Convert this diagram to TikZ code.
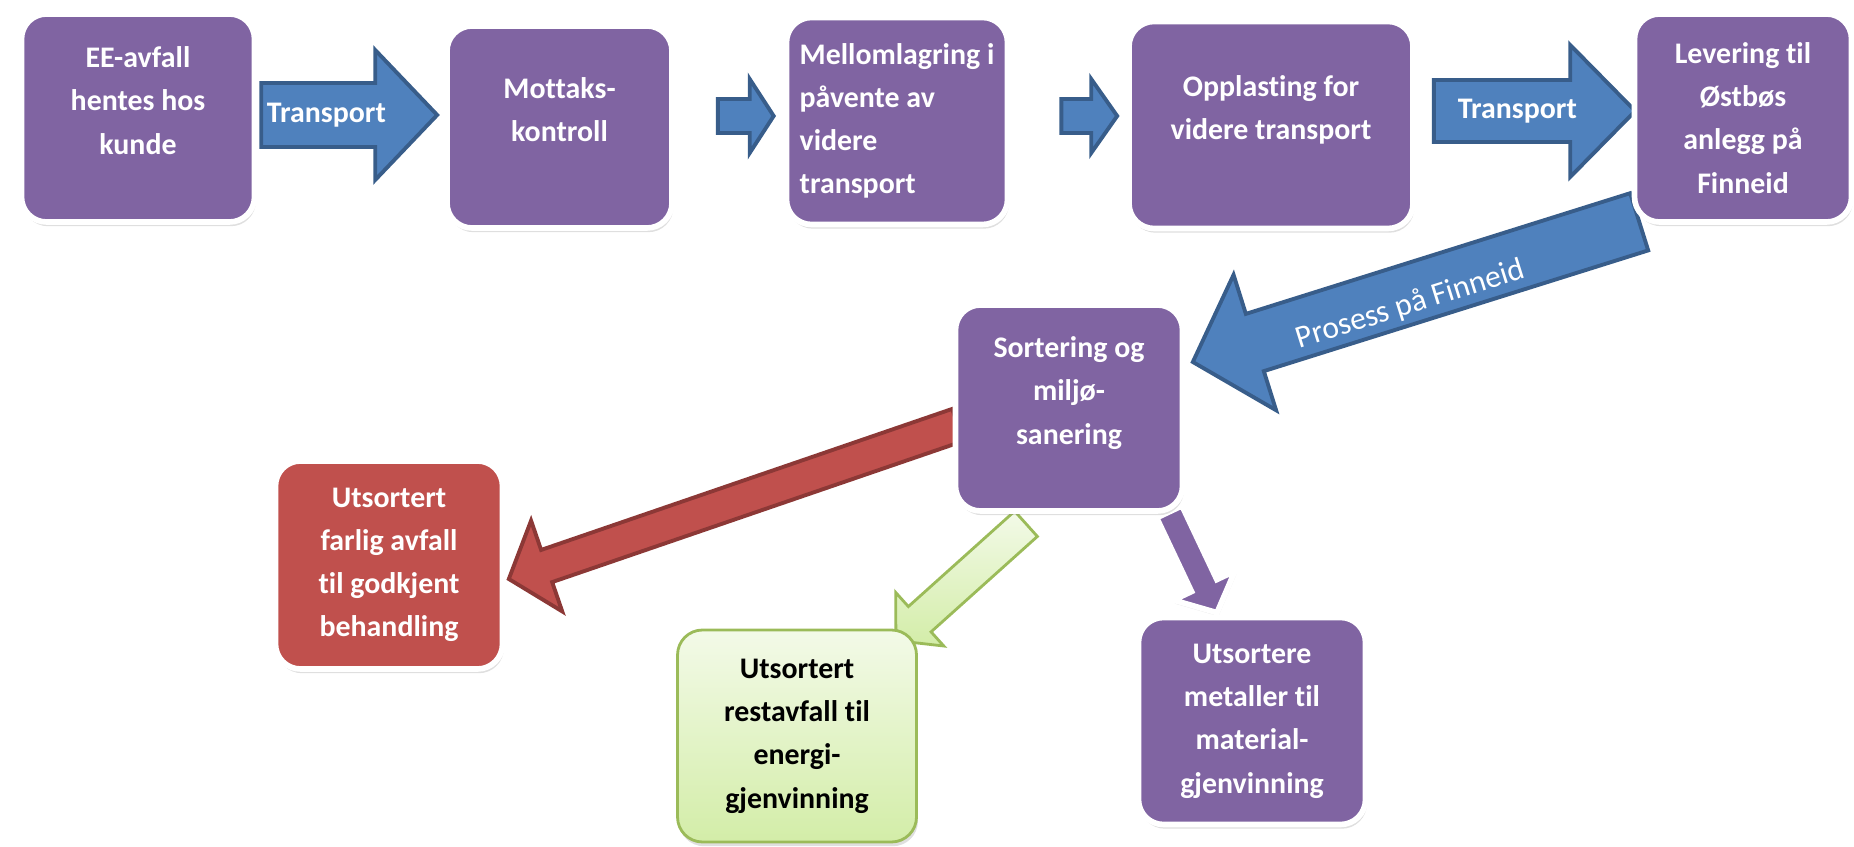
\documentclass[tikz,border=0pt]{standalone}
\usepackage{fontspec}
\setmainfont{Carlito}[Ligatures=NoCommon]
\usepackage{xcolor}
\usetikzlibrary{calc, shadows, backgrounds}

\definecolor{boxpurple}{HTML}{8064A2}
\definecolor{arrowblue}{HTML}{4F81BD}
\definecolor{arrowedge}{HTML}{385D8A}
\definecolor{boxred}{HTML}{C0504D}
\definecolor{rededge}{HTML}{8C3836}
\definecolor{greentop}{HTML}{F3FAE8}
\definecolor{greenbottom}{HTML}{D3EDA8}
\definecolor{greenedge}{HTML}{9BBB59}

% block arrow: [style]{tail}{tip}{shaft half width}{head half width}{head length}
\newcommand{\blockarrow}[6][]{%
  \coordinate (ba-base) at ($(#3)!#6!(#2)$);
  \draw[#1] ($(#2)!#4!90:(#3)$) -- ($(ba-base)!#4!-90:(#2)$) -- ($(ba-base)!#5!-90:(#2)$)
    -- (#3) -- ($(ba-base)!#5!90:(#2)$) -- ($(ba-base)!#4!90:(#2)$) -- ($(#2)!#4!-90:(#3)$) -- cycle;
}

\begin{document}
\begin{tikzpicture}[
    font=\fontsize{8.5}{12.3}\selectfont\bfseries,
    stepnode/.style={draw=white, line width=1.6pt, rounded corners=0.25cm, fill=boxpurple, text=white,
      align=center, minimum width=2.25cm, minimum height=2.07cm,
      drop shadow={opacity=0.25, shadow xshift=0.4pt, shadow yshift=-1.2pt}},
    lifted/.style={text depth=10pt},
    greenbox/.style={draw=greenedge, line width=0.8pt, top color=greentop, bottom color=greenbottom, text=black},
    bluearrow/.style={fill=arrowblue, draw=arrowedge, line width=1.1pt},
    redarrow/.style={fill=boxred, draw=rededge, line width=1.1pt},
    greenarrow/.style={top color=greentop, bottom color=greenbottom, draw=greenedge, line width=0.8pt},
    purplearrow/.style={fill=boxpurple, draw=white, line width=1.6pt,
      drop shadow={opacity=0.2, shadow xshift=0.4pt, shadow yshift=-1pt}}
]
    \useasboundingbox (0,0) rectangle (18.54,8.46);

    % Nodes
    \node[stepnode, lifted, minimum width=2.33cm, minimum height=2.08cm] (pickup) at (1.38,7.28) {EE-avfall\\hentes hos\\kunde};
    \node[stepnode, lifted, minimum height=2.02cm] (control) at (5.595,7.19) {Mottaks-\\kontroll};
    \node[stepnode, align=left, minimum width=2.21cm] (storage) at (8.97,7.25) {Mellomlagring i\\påvente av\\videre\\transport};
    \node[stepnode, lifted, minimum width=2.84cm] (loading) at (12.71,7.21) {Opplasting for\\videre transport};
    \node[stepnode, minimum width=2.17cm, minimum height=2.08cm] (delivery) at (17.43,7.28) {Levering til\\Østbøs\\anlegg på\\Finneid};
    \node[stepnode, lifted, minimum width=2.27cm, minimum height=2.06cm] (sorting) at (10.69,4.38) {Sortering og\\miljø-\\sanering};
    \node[stepnode, fill=boxred, minimum width=2.27cm, minimum height=2.08cm] (hazard) at (3.89,2.81) {Utsortert\\farlig avfall\\til godkjent\\behandling};
    \node[stepnode, greenbox, minimum width=2.39cm, minimum height=2.12cm] (residual) at (7.97,1.10) {Utsortert\\restavfall til\\energi-\\gjenvinning};
    \node[stepnode, minimum width=2.27cm] (metals) at (12.52,1.25) {Utsortere\\metaller til\\material-\\gjenvinning};

    % Arrow ends
    \coordinate (t1) at ($(pickup.east)+(0.04,0.03)$);
    \coordinate (p1) at ($(control.west)+(-0.07,0.12)$);
    \coordinate (t2) at ($(control.east)+(0.43,0.11)$);
    \coordinate (p2) at ($(storage.west)+(-0.10,0.05)$);
    \coordinate (t3) at ($(storage.east)+(0.51,0.05)$);
    \coordinate (p3) at ($(loading.west)+(-0.09,0.09)$);
    \coordinate (t4) at ($(loading.east)+(0.18,0.14)$);
    \coordinate (p4) at ($(delivery.west)+(0.035,0.07)$);
    \coordinate (tb) at ($(delivery.south west)+(0.075,0.03)$);
    \coordinate (pb) at ($(sorting.east)+(0.075,0.46)$);
    \coordinate (tr) at ($(sorting.west)+(0.05,-0.17)$);
    \coordinate (pr) at ($(hazard.east)+(0.035,-0.14)$);
    \coordinate (tg) at ($(sorting.south)+(-0.43,-0.10)$);
    \coordinate (pg) at ($(residual.north east)+(-0.22,-0.12)$);
    \coordinate (tm) at ($(sorting.south east)+(-0.16,0.02)$);
    \coordinate (pm) at ($(metals.north)+(-0.35,0.02)$);

    % Connections
    \begin{scope}[on background layer]
        \blockarrow[bluearrow]{t1}{p1}{0.32cm}{0.65cm}{0.62cm}
        \blockarrow[bluearrow]{t2}{p2}{0.17cm}{0.37cm}{0.24cm}
        \blockarrow[bluearrow]{t3}{p3}{0.17cm}{0.37cm}{0.26cm}
        \blockarrow[bluearrow]{t4}{p4}{0.31cm}{0.66cm}{0.65cm}
        \blockarrow[bluearrow]{tb}{pb}{0.30cm}{0.71cm}{0.65cm}
        \blockarrow[redarrow]{tr}{pr}{0.17cm}{0.48cm}{0.40cm}
        \blockarrow[greenarrow]{tg}{pg}{0.17cm}{0.36cm}{0.32cm}
        \blockarrow[purplearrow]{tm}{pm}{0.14cm}{0.34cm}{0.30cm}
    \end{scope}

    % Labels
    \path (t1) -- (p1) node[pos=0.37, text=white] (transport1) {Transport};
    \path (t4) -- (p4) node[pos=0.415, text=white] (transport2) {Transport};
    \path (tb) -- (pb) node[pos=0.52, sloped, text=white, font=\fontsize{9}{11}\selectfont\mdseries, yshift=-3pt] (process) {Prosess på Finneid};
\end{tikzpicture}
\end{document}
